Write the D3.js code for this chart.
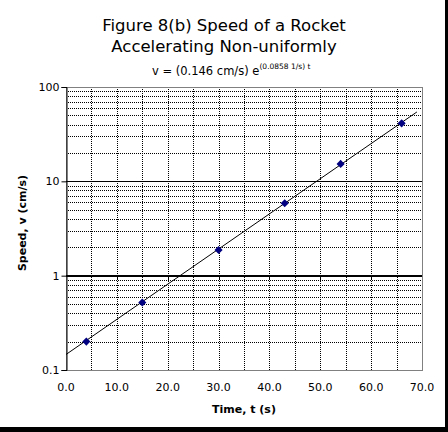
<!DOCTYPE html>
<html>
<head>
<meta charset="utf-8">
<script src="https://cdn.jsdelivr.net/npm/d3@7"></script>
<style>
  body { margin: 0; background: #fff; }
  svg { display: block; font-family: "DejaVu Sans", sans-serif; }
</style>
</head>
<body>
<svg id="chart" width="448" height="432"></svg>
<script>
// measured points
const times = [4, 15, 30, 43, 54, 66];
const speeds = [0.20, 0.52, 1.87, 5.85, 15.3, 41.2];

// exponential trendline, straight on log axis: ends only
const trendTimes = [0, 69];
const trendSpeeds = [0.146, 54.4];

const xTicks = [0, 10, 20, 30, 40, 50, 60, 70];
const xGrid = [5, 10, 15, 20, 25, 30, 35, 40, 45, 50, 55, 60, 65];
const yTicks = [0.1, 1, 10, 100];
const yTickLabels = ['0.1', '1', '10', '100'];

const svg = d3.select('#chart');

const x = d3.scaleLinear().domain([0, 70]).range([66, 422]);
const y = d3.scaleLog().domain([0.1, 100]).range([370, 87]);

// minor log grid (2..9 in each decade)
var minor = [];
[0.1, 1, 10].forEach(function(d) {
    for (var k = 2; k <= 9; k++) minor.push(d * k);
});

var grid = svg.append('g');
grid.selectAll('line.hm')
    .data(minor)
    .enter()
    .append('line')
    .attr('x1', x(0)).attr('x2', x(70))
    .attr('y1', d => Math.round(y(d)) + 0.5)
    .attr('y2', d => Math.round(y(d)) + 0.5)
    .attr('stroke', '#000')
    .attr('stroke-dasharray', '1,1');

grid.selectAll('line.vm')
    .data(xGrid)
    .enter()
    .append('line')
    .attr('x1', d => Math.round(x(d)) + 0.5)
    .attr('x2', d => Math.round(x(d)) + 0.5)
    .attr('y1', y(100)).attr('y2', y(0.1))
    .attr('stroke', '#000')
    .attr('stroke-dasharray', '1,1');

// plot area border
svg.append('rect')
    .attr('x', x(0) + 0.5).attr('y', Math.round(y(100)) + 0.5)
    .attr('width', x(70) - x(0)).attr('height', Math.round(y(0.1)) - Math.round(y(100)))
    .attr('fill', 'none')
    .attr('stroke', '#808080');

// major gridline at 10
svg.append('line')
    .attr('x1', x(0)).attr('x2', x(70))
    .attr('y1', Math.round(y(10)) + 0.5).attr('y2', Math.round(y(10)) + 0.5)
    .attr('stroke', '#000');

// category axis crosses at 1
var xAxisG = svg.append('g')
    .attr('transform', 'translate(0,' + Math.round(y(1)) + ')');
xAxisG.append('line')
    .attr('x1', x(0)).attr('x2', x(70))
    .attr('stroke', '#000')
    .attr('stroke-width', 2);
xAxisG.selectAll('line.tk')
    .data(xTicks.slice(1, -1))
    .enter()
    .append('line')
    .attr('x1', d => Math.round(x(d)) + 0.5)
    .attr('x2', d => Math.round(x(d)) + 0.5)
    .attr('y1', 0).attr('y2', 3)
    .attr('stroke', '#000');

// value axis
var yAxis = d3.axisLeft(y)
    .tickValues(yTicks)
    .tickFormat((d, i) => yTickLabels[i])
    .tickSize(5)
    .tickPadding(2);
var yAxisG = svg.append('g')
    .attr('transform', 'translate(' + (x(0) + 0.5) + ',0)')
    .call(yAxis);
yAxisG.select('.domain').attr('stroke', '#000');
yAxisG.selectAll('.tick line').attr('stroke', '#000');
yAxisG.selectAll('.tick text')
    .attr('font-family', '"DejaVu Sans", sans-serif')
    .attr('font-size', 11)
    .attr('fill', '#000');

// tick labels along the bottom
svg.append('g').selectAll('text')
    .data(xTicks)
    .enter()
    .append('text')
    .attr('x', d => x(d))
    .attr('y', 391)
    .attr('text-anchor', 'middle')
    .attr('font-size', 11)
    .text(d => d.toFixed(1));

// trendline
svg.append('path')
    .datum(d3.zip(trendTimes, trendSpeeds))
    .attr('d', d3.line().x(d => x(d[0])).y(d => y(d[1])))
    .attr('fill', 'none')
    .attr('stroke', '#000')
    .attr('stroke-width', 1);

// markers
svg.append('g').selectAll('path')
    .data(d3.zip(times, speeds))
    .enter()
    .append('path')
    .attr('transform', d => 'translate(' + x(d[0]) + ',' + y(d[1]) + ')')
    .attr('d', d3.symbol().type(d3.symbolDiamond2).size(42))
    .attr('fill', '#000080');

// titles
svg.append('text')
    .attr('x', 224).attr('y', 31)
    .attr('text-anchor', 'middle')
    .attr('font-size', 16.5)
    .text('Figure 8(b) Speed of a Rocket');
svg.append('text')
    .attr('x', 224).attr('y', 52)
    .attr('text-anchor', 'middle')
    .attr('font-size', 16.5)
    .text('Accelerating Non-uniformly');

var sub = svg.append('text')
    .attr('x', 152).attr('y', 75)
    .attr('font-size', 11.5);
sub.append('tspan').text('v = (0.146 cm/s) e');
sub.append('tspan')
    .attr('dy', -6)
    .attr('font-size', 7.5)
    .text('(0.0858 1/s) t');

svg.append('text')
    .attr('x', 244).attr('y', 413)
    .attr('text-anchor', 'middle')
    .attr('font-size', 11)
    .attr('font-weight', 'bold')
    .text('Time, t (s)');

svg.append('text')
    .attr('transform', 'translate(26,223) rotate(-90)')
    .attr('text-anchor', 'middle')
    .attr('font-size', 11)
    .attr('font-weight', 'bold')
    .text('Speed, v (cm/s)');

// outer frame shadow, right and bottom
svg.append('rect').attr('x', 445).attr('y', 0).attr('width', 3).attr('height', 432).attr('fill', '#000');
svg.append('rect').attr('x', 0).attr('y', 427).attr('width', 448).attr('height', 5).attr('fill', '#000');
</script>
</body>
</html>
